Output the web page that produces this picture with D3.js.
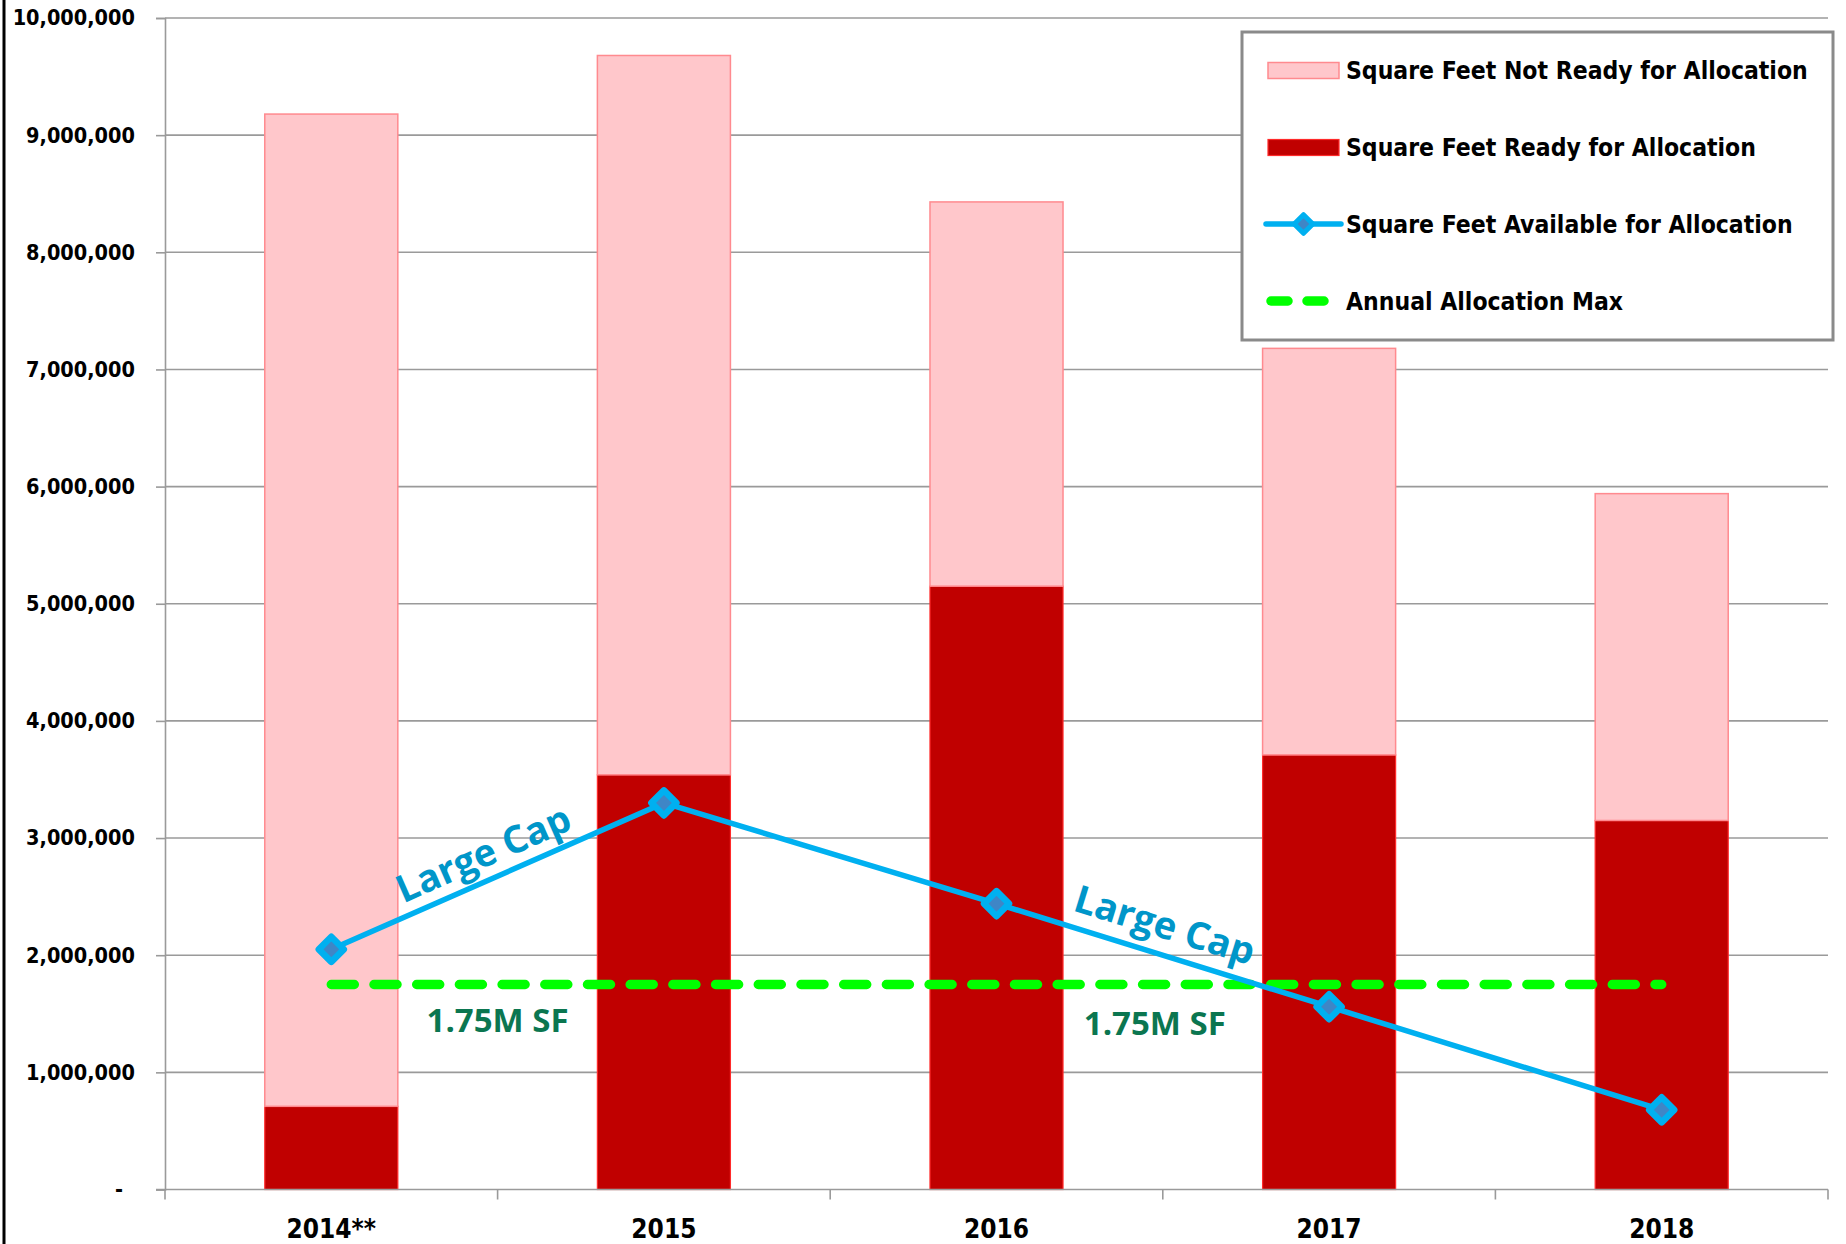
<!DOCTYPE html>
<html>
<head>
<meta charset="utf-8">
<script src="https://cdn.jsdelivr.net/npm/d3@7"></script>
<style>
  html, body { margin: 0; padding: 0; background: #fff; }
  svg { display: block; }
  .lbl { font-family: 'DejaVu Sans Condensed', 'DejaVu Sans', sans-serif; font-stretch: condensed; font-weight: bold; }
</style>
</head>
<body>
<svg id="chart" width="1846" height="1244"></svg>
<script>
// Allocation pipeline by year (square feet)
const years = ["2014**", "2015", "2016", "2017", "2018"];
const sfReady = [710000, 3540000, 5150000, 3710000, 3150000];
const sfNotReady = [8470000, 6140000, 3280000, 3470000, 2790000];
const sfAvailable = [2050000, 3300000, 2440000, 1560000, 680000];
const allocationMax = 1750000;
const yTicks = [0, 1000000, 2000000, 3000000, 4000000, 5000000, 6000000, 7000000, 8000000, 9000000, 10000000];
const legendLabels = [
  "Square Feet Not Ready for Allocation",
  "Square Feet Ready for Allocation",
  "Square Feet Available for Allocation",
  "Annual Allocation Max"
];

const svg = d3.select("#chart");
const plotLeft = 165, plotRight = 1828, plotTop = 18, plotBottom = 1189.5;

const x = d3.scaleBand().domain(years).range([plotLeft, plotRight]).paddingInner(0.6).paddingOuter(0.3);
const y = d3.scaleLinear().domain([0, 10000000]).range([plotBottom, plotTop]);
const cx = d => x(d) + x.bandwidth() / 2;

svg.append("rect").attr("width", 1846).attr("height", 1244).attr("fill", "#fff");

// outer frame edge on the left
svg.append("line").attr("x1", 4).attr("x2", 4).attr("y1", 0).attr("y2", 1244)
  .attr("stroke", "#000").attr("stroke-width", 3);

// horizontal gridlines
svg.append("g").selectAll("line").data(yTicks.slice(1)).join("line")
  .attr("x1", plotLeft).attr("x2", plotRight)
  .attr("y1", d => y(d)).attr("y2", d => y(d))
  .attr("stroke", "#9a9a9a").attr("stroke-width", 1.6);

// y axis
const yAxis = svg.append("g").attr("transform", `translate(${plotLeft},0)`)
  .call(d3.axisLeft(y).tickValues(yTicks).tickSize(9).tickPadding(21)
    .tickFormat(d => d === 0 ? "-" : d3.format(",")(d)));
yAxis.attr("font-family", null).attr("font-size", null);
yAxis.select(".domain").attr("stroke", "#9a9a9a").attr("stroke-width", 1.6);
yAxis.selectAll(".tick line").attr("stroke", "#9a9a9a").attr("stroke-width", 1.6);
yAxis.selectAll(".tick text")
  .attr("class", "lbl").attr("font-size", 21.5).attr("fill", "#000")
  .attr("dx", d => d === 0 ? -12 : 0);

// stacked bars
const bars = svg.append("g");
bars.selectAll("rect.ready").data(years).join("rect").attr("class", "ready")
  .attr("x", d => x(d)).attr("width", x.bandwidth())
  .attr("y", (d, i) => y(sfReady[i]))
  .attr("height", (d, i) => y(0) - y(sfReady[i]))
  .attr("fill", "#c00000").attr("stroke", "#ff2a2a").attr("stroke-width", 1.2);
bars.selectAll("rect.notready").data(years).join("rect").attr("class", "notready")
  .attr("x", d => x(d)).attr("width", x.bandwidth())
  .attr("y", (d, i) => y(sfReady[i] + sfNotReady[i]))
  .attr("height", (d, i) => y(sfReady[i]) - y(sfReady[i] + sfNotReady[i]))
  .attr("fill", "#ffc7cb").attr("stroke", "#ff8a8f").attr("stroke-width", 1.5);

// x axis
const xAxis = svg.append("g").attr("transform", `translate(0,${plotBottom})`);
xAxis.append("line").attr("x1", plotLeft - 9).attr("x2", plotRight).attr("y1", 0).attr("y2", 0)
  .attr("stroke", "#9a9a9a").attr("stroke-width", 1.6);
const boundaries = years.map(d => x(d) - x.step() * x.paddingInner() / 2);
boundaries[0] = plotLeft;
boundaries.push(plotRight);
xAxis.selectAll("line.tk").data(boundaries).join("line").attr("class", "tk")
  .attr("x1", d => d).attr("x2", d => d).attr("y1", 0).attr("y2", 10)
  .attr("stroke", "#9a9a9a").attr("stroke-width", 1.6);
xAxis.selectAll("text").data(years).join("text")
  .attr("class", "lbl")
  .attr("x", d => cx(d)).attr("y", 48)
  .attr("text-anchor", "middle")
  .attr("font-size", 26).attr("fill", "#000")
  .text(d => d);

// annual allocation max
svg.append("line")
  .attr("x1", cx(years[0])).attr("x2", cx(years[years.length - 1]))
  .attr("y1", y(allocationMax)).attr("y2", y(allocationMax))
  .attr("stroke", "#00ff00").attr("stroke-width", 9.5)
  .attr("stroke-linecap", "round").attr("stroke-dasharray", "23 19.7");

// available line with diamond markers
const line = d3.line().x((d, i) => cx(years[i])).y(d => y(d));
svg.append("path").datum(sfAvailable).attr("d", line)
  .attr("fill", "none").attr("stroke", "#00b0f0").attr("stroke-width", 5.5);
const diamond = d3.symbol().type(d3.symbolDiamond2).size(400);
svg.append("g").selectAll("path").data(sfAvailable).join("path")
  .attr("transform", (d, i) => `translate(${cx(years[i])},${y(d)})`)
  .attr("d", diamond)
  .attr("fill", "#3f86c6").attr("stroke", "#00b0f0").attr("stroke-width", 6.5)
  .attr("stroke-linejoin", "round");

// segment annotations
function segmentLabel(i, offset, txt) {
  const x1 = cx(years[i]), y1 = y(sfAvailable[i]);
  const x2 = cx(years[i + 1]), y2 = y(sfAvailable[i + 1]);
  const ang = Math.atan2(y2 - y1, x2 - x1);
  const mx = (x1 + x2) / 2, my = (y1 + y2) / 2;
  const px = mx + Math.sin(ang) * offset.d + Math.cos(ang) * offset.t;
  const py = my - Math.cos(ang) * offset.d + Math.sin(ang) * offset.t;
  svg.append("text")
    .attr("transform", `translate(${px},${py}) rotate(${ang * 180 / Math.PI})`)
    .attr("text-anchor", "middle")
    .attr("font-family", "'Open Sans', sans-serif").attr("font-weight", "bold")
    .attr("font-size", 38).attr("fill", "#0096c9")
    .text(txt);
}
segmentLabel(0, { d: 13, t: -4 }, "Large Cap");
segmentLabel(2, { d: 16, t: -7 }, "Large Cap");

// allocation max labels
[[0, 1], [2, 3]].forEach(([a, b], k) => {
  svg.append("text")
    .attr("x", (cx(years[a]) + cx(years[b])) / 2 - (k === 1 ? 8 : 0))
    .attr("y", y(allocationMax) + 48 + (k === 1 ? 3 : 0))
    .attr("text-anchor", "middle")
    .attr("font-family", "'Open Sans', sans-serif").attr("font-weight", "bold")
    .attr("font-size", 33).attr("fill", "#0b7650")
    .text("1.75M SF");
});

// legend
const lg = svg.append("g");
lg.append("rect").attr("x", 1242).attr("y", 32).attr("width", 591).attr("height", 308)
  .attr("fill", "#fff").attr("stroke", "#8a8a8a").attr("stroke-width", 3);
const rowY = [70.5, 147.5, 224, 301];
const sx0 = 1268, sx1 = 1339;
lg.append("rect").attr("x", sx0).attr("y", rowY[0] - 8).attr("width", sx1 - sx0).attr("height", 16)
  .attr("fill", "#ffc7cb").attr("stroke", "#ff8a8f").attr("stroke-width", 1.5);
lg.append("rect").attr("x", sx0).attr("y", rowY[1] - 8).attr("width", sx1 - sx0).attr("height", 16)
  .attr("fill", "#c00000").attr("stroke", "#ff2a2a").attr("stroke-width", 1.2);
lg.append("line").attr("x1", sx0 - 2).attr("x2", sx1 + 2).attr("y1", rowY[2]).attr("y2", rowY[2])
  .attr("stroke", "#00b0f0").attr("stroke-width", 5.5).attr("stroke-linecap", "round");
lg.append("path").attr("transform", `translate(${(sx0 + sx1) / 2},${rowY[2]})`)
  .attr("d", d3.symbol().type(d3.symbolDiamond2).size(220))
  .attr("fill", "#3f86c6").attr("stroke", "#00b0f0").attr("stroke-width", 5).attr("stroke-linejoin", "round");
lg.append("line").attr("x1", sx0 + 3).attr("x2", sx1).attr("y1", rowY[3]).attr("y2", rowY[3])
  .attr("stroke", "#00ff00").attr("stroke-width", 9.5).attr("stroke-linecap", "round")
  .attr("stroke-dasharray", "17 19");
lg.selectAll("text").data(legendLabels).join("text")
  .attr("class", "lbl")
  .attr("x", 1346).attr("y", (d, i) => rowY[i])
  .attr("dominant-baseline", "central")
  .attr("font-size", 24.5).attr("fill", "#000")
  .text(d => d);
</script>
</body>
</html>
